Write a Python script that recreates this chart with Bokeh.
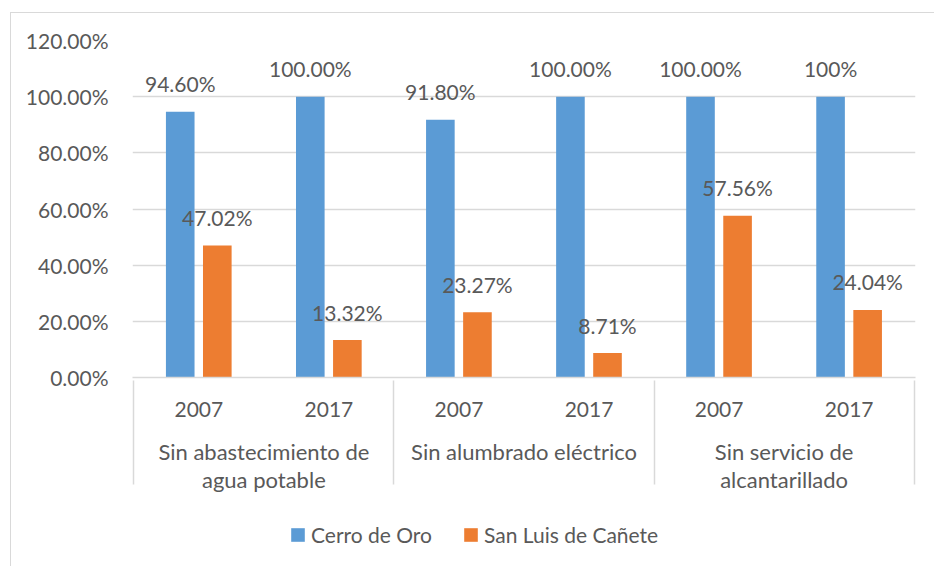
from bokeh.plotting import figure
from bokeh.layouts import column
from bokeh.models import (FactorRange, ColumnDataSource, NumeralTickFormatter, FixedTicker,
                          Legend, LegendItem, Range1d)
from bokeh.transform import dodge
from bokeh.embed import file_html
from bokeh.resources import INLINE
from bokeh.core.properties import value

groups = ["Sin abastecimiento de\nagua potable", "Sin alumbrado eléctrico", "Sin servicio de\nalcantarillado"]
years = ["2007", "2017"]
series_names = ["Cerro de Oro", "San Luis de Cañete"]
cerro = [0.9460, 1.0000, 0.9180, 1.0000, 1.0000, 1.0000]
sanluis = [0.4702, 0.1332, 0.2327, 0.0871, 0.5756, 0.2404]
cerro_labels = ["94.60%", "100.00%", "91.80%", "100.00%", "100.00%", "100%"]
sanluis_labels = ["47.02%", "13.32%", "23.27%", "8.71%", "57.56%", "24.04%"]
y_ticks = [0, 0.2, 0.4, 0.6, 0.8, 1.0, 1.2]

FONT = "Lato"
TXT = "#595959"
BLUE = "#5B9BD5"
ORANGE = "#ED7D31"
GRID = "#D9D9D9"

factors = [(g, y) for g in groups for y in years]
# blank edge groups so the axis draws separator lines at both frame edges
edge_factors = [(" ", " ")] + factors + [("  ", " ")]
src = ColumnDataSource(dict(x=factors, cerro=cerro, sanluis=sanluis,
                            cl=cerro_labels, sl=sanluis_labels))

x_range = FactorRange(*edge_factors, range_padding=-0.99, range_padding_units="absolute",
                      group_padding=0, factor_padding=0)
p = figure(frame_width=783, frame_height=337, output_backend="svg", toolbar_location=None,
           x_range=x_range, y_range=(0, 1.2),
           min_border_left=121, min_border_right=19, min_border_top=27, min_border_bottom=125)
p.outline_line_color = None

b1 = p.vbar(x=dodge("x", -0.143, range=p.x_range), top="cerro", width=0.22, source=src,
            fill_color=BLUE, line_color=None)
b2 = p.vbar(x=dodge("x", 0.142, range=p.x_range), top="sanluis", width=0.22, source=src,
            fill_color=ORANGE, line_color=None)

for col, lab, off in (("cerro", "cl", -0.143), ("sanluis", "sl", 0.142)):
    p.text(x=dodge("x", off, range=p.x_range), y=col, text=lab, source=src,
           text_align="center", text_baseline="alphabetic", y_offset=-28,
           text_font=value(FONT), text_font_size="21px", text_color=TXT)

# y axis
p.yaxis.ticker = FixedTicker(ticks=y_ticks)
p.yaxis.formatter = NumeralTickFormatter(format="0.00%")
p.yaxis.axis_line_color = None
p.yaxis.major_tick_line_color = None
p.yaxis.minor_tick_line_color = None
p.yaxis.major_label_text_font = FONT
p.yaxis.major_label_text_font_size = "21px"
p.yaxis.major_label_text_color = TXT
p.yaxis.major_label_standoff = 18
p.ygrid.ticker = FixedTicker(ticks=y_ticks)
p.ygrid.grid_line_color = GRID
p.ygrid.grid_line_width = 1.5
p.xgrid.grid_line_color = None

# x axis
xa = p.xaxis[0]
xa.axis_line_color = GRID
xa.axis_line_width = 1.5
xa.major_tick_line_color = None
xa.minor_tick_line_color = None
xa.major_label_text_font = FONT
xa.major_label_text_font_size = "21px"
xa.major_label_text_color = TXT
xa.major_label_standoff = 18
xa.group_text_font = FONT
xa.group_text_font_size = "22px"
xa.group_text_color = TXT
xa.group_text_font_style = "normal"
xa.group_text_line_height = 1.06
xa.separator_line_color = GRID
xa.separator_line_width = 1.5

# legend row (own figure so it is not clipped); its bars lie outside its y range
p2 = figure(width=923, height=64, output_backend="svg", toolbar_location=None,
            x_range=p.x_range, y_range=Range1d(5, 6),
            x_axis_type=None, y_axis_type=None, min_border=0)
p2.outline_line_color = None
p2.grid.visible = False
l1 = p2.vbar(x=dodge("x", -0.143, range=p.x_range), top="cerro", width=0.22, source=src,
             fill_color=BLUE, line_color=None)
l2 = p2.vbar(x=dodge("x", 0.142, range=p.x_range), top="sanluis", width=0.22, source=src,
             fill_color=ORANGE, line_color=None)
legend = Legend(items=[LegendItem(label=series_names[0], renderers=[l1]),
                       LegendItem(label=series_names[1], renderers=[l2])],
                orientation="horizontal", location=(157, 19),
                label_text_font=FONT, label_text_font_size="21px", label_text_color=TXT,
                glyph_width=17, glyph_height=17, spacing=30, label_standoff=5,
                border_line_color=None, background_fill_alpha=0, padding=4, margin=0)
p2.add_layout(legend, "center")

layout = column(p, p2, spacing=0,
                styles={"margin-left": "10px", "margin-top": "12px",
                        "border-left": "1px solid #D9D9D9", "border-top": "1px solid #D9D9D9"})

open("out.html", "w").write(file_html(layout, INLINE))
